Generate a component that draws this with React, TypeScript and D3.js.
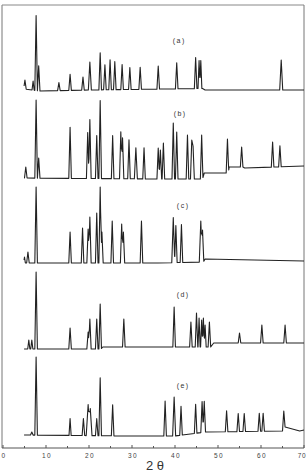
import React from "react";
import * as d3 from "d3";

const W = 307;
const H = 473;

// x axis
const xTicksMajor = [0, 10, 20, 30, 40, 50, 60, 70];
const xTicksMinor = [5, 15, 25, 35, 45, 55, 65];
const xLabel = "2 θ";

// Trace labels
const traceNames = ["(a)", "(b)", "(c)", "(d)", "(e)"];

// Baselines: [2θ, level] (level in plot units, vertical offset of trace)
const baseA: [number, number][] = [[4.9, 359], [8.5, 357], [20, 358], [46.4, 359.5], [47, 358], [70, 358]];
const baseB: [number, number][] = [[4.9, 270], [36, 269], [46.4, 269], [46.8, 275], [52.4, 275], [52.6, 281], [55.8, 281], [56.2, 280], [70, 282]];
const baseC: [number, number][] = [[4.9, 185], [36, 185], [46.6, 186], [47, 189], [70, 187]];
const baseD: [number, number][] = [[4.9, 99], [8, 99], [22.8, 99], [23.2, 101], [48.3, 101], [49, 105], [70, 105]];
const baseE: [number, number][] = [[4.9, 13], [30, 12], [40, 12], [47.2, 16], [65, 17], [65.6, 21], [69, 17], [70, 18]];

// Peaks: [2θ, intensity, half-width]
const peaksA: [number, number, number][] = [
  [5.1, 9, 0.3], [7.0, 9, 0.25], [7.7, 75, 0.3], [8.3, 25, 0.3], [13.0, 8, 0.3], [15.6, 16, 0.3],
  [18.6, 13, 0.3], [20.2, 28, 0.35], [22.6, 37, 0.3], [23.7, 25, 0.3], [24.9, 30, 0.3], [26.0, 28, 0.3],
  [27.7, 25, 0.3], [29.5, 22, 0.3], [31.9, 22, 0.3], [36.1, 23, 0.3], [40.4, 26, 0.3], [44.8, 31, 0.3],
  [45.6, 28, 0.25], [46.0, 28, 0.25], [64.7, 30, 0.35],
];
const peaksB: [number, number, number][] = [
  [5.3, 11, 0.3], [7.7, 78, 0.3], [8.3, 20, 0.3], [15.6, 51, 0.3], [19.7, 46, 0.3], [20.2, 59, 0.3],
  [21.8, 43, 0.3], [22.6, 78, 0.3], [25.5, 43, 0.3], [27.4, 47, 0.3], [27.8, 41, 0.3], [29.3, 39, 0.3],
  [30.9, 31, 0.35], [32.8, 31, 0.3], [36.1, 31, 0.3], [36.6, 29, 0.3], [37.3, 36, 0.3], [39.6, 56, 0.3],
  [40.4, 47, 0.3], [42.9, 44, 0.3], [43.9, 39, 0.3], [44.2, 33, 0.3], [46.2, 44, 0.3], [52.2, 34, 0.3],
  [55.5, 20, 0.3], [62.7, 25, 0.3], [64.4, 21, 0.3],
];
const peaksC: [number, number, number][] = [
  [5.0, 6, 0.2], [5.8, 11, 0.3], [7.7, 76, 0.3], [15.6, 31, 0.3], [18.5, 35, 0.3], [19.8, 34, 0.3],
  [20.2, 46, 0.3], [21.8, 50, 0.3], [22.6, 76, 0.3], [23.0, 31, 0.3], [25.4, 42, 0.3], [27.6, 39, 0.3],
  [28.0, 31, 0.3], [32.2, 42, 0.3], [39.6, 45, 0.35], [40.2, 37, 0.3], [41.5, 38, 0.3], [46.0, 41, 0.35],
  [46.4, 32, 0.3],
];
const peaksD: [number, number, number][] = [
  [6.0, 9, 0.25], [6.7, 9, 0.25], [7.7, 77, 0.3], [15.6, 21, 0.3], [19.8, 17, 0.3], [20.2, 30, 0.3],
  [21.8, 30, 0.3], [22.6, 45, 0.3], [28.1, 28, 0.3], [39.8, 40, 0.3], [43.7, 25, 0.3], [45.0, 34, 0.3],
  [45.6, 29, 0.25], [46.2, 27, 0.25], [46.6, 29, 0.25], [47.0, 22, 0.25], [48.0, 25, 0.3], [55.0, 10, 0.3],
  [60.2, 18, 0.3], [65.6, 18, 0.3],
];
const peaksE: [number, number, number][] = [
  [6.7, 3, 0.3], [7.7, 78, 0.3], [15.6, 17, 0.25], [18.7, 17, 0.3], [19.8, 31, 0.45], [20.3, 27, 0.4],
  [21.8, 17, 0.3], [22.6, 58, 0.3], [25.5, 31, 0.3], [37.7, 35, 0.3], [39.8, 39, 0.35], [41.4, 29, 0.3],
  [44.8, 29, 0.3], [46.3, 31, 0.3], [46.8, 31, 0.3], [52.0, 21, 0.3], [54.7, 18, 0.3], [56.1, 18, 0.3],
  [59.6, 18, 0.3], [60.5, 18, 0.3], [65.3, 18, 0.3],
];

const traces = [
  { name: traceNames[0], base: baseA, peaks: peaksA, label: [41, 40] as [number, number] },
  { name: traceNames[1], base: baseB, peaks: peaksB, label: [41.2, 113] as [number, number] },
  { name: traceNames[2], base: baseC, peaks: peaksC, label: [41.9, 205] as [number, number] },
  { name: traceNames[3], base: baseD, peaks: peaksD, label: [41.9, 294] as [number, number] },
  { name: traceNames[4], base: baseE, peaks: peaksE, label: [41.9, 385] as [number, number] },
];

const x = d3.scaleLinear().domain([0, 70]).range([3, 304]);
const y = d3.scaleLinear().domain([0, 443]).range([448, 5]);

function profile(base: [number, number][], peaks: [number, number, number][]) {
  const bx = base.map((b) => b[0]);
  const by = base.map((b) => b[1]);
  const bl = d3.scaleLinear().domain(bx).range(by).clamp(true);
  const xs = new Set<number>();
  base.forEach((b) => xs.add(b[0]));
  peaks.forEach(([p, , w]) => {
    xs.add(p - w);
    xs.add(p);
    xs.add(p + w);
  });
  const start = base[0][0];
  const end = base[base.length - 1][0];
  const sorted = Array.from(xs).filter((v) => v >= start && v <= end).sort((a, b) => a - b);
  return sorted.map((t) => {
    let v = 0;
    peaks.forEach(([p, h, w]) => {
      const s = h * Math.max(0, 1 - Math.abs(t - p) / w);
      if (s > v) v = s;
    });
    return [t, bl(t) + v] as [number, number];
  });
}

const line = d3
  .line<[number, number]>()
  .x((d) => x(d[0]))
  .y((d) => y(d[1]));

export default function App() {
  const axisY = y(0);
  const last = xTicksMajor[xTicksMajor.length - 1];
  return (
    <svg
      width={W}
      height={H}
      style={{ position: "absolute", left: 0, top: 0, background: "#fff" }}
      fontFamily="Arial, Liberation Sans, sans-serif"
    >
      <rect x={0} y={0} width={W} height={H} fill="#fff" />
      {/* frame */}
      <line x1={2} y1={y(443)} x2={2} y2={axisY} stroke="#777" strokeWidth={1} />
      <line x1={2} y1={y(443)} x2={x(70)} y2={y(443)} stroke="#888" strokeWidth={1} />
      <line x1={x(70)} y1={y(443)} x2={x(70)} y2={axisY} stroke="#777" strokeWidth={1} />
      <line x1={2} y1={axisY} x2={x(70)} y2={axisY} stroke="#555" strokeWidth={1} />
      {xTicksMajor.map((t) => (
        <g key={"M" + t}>
          <line x1={x(t)} x2={x(t)} y1={axisY} y2={axisY - 3} stroke="#555" />
          <text
            x={t === last ? W - 0.5 : x(t) + 1}
            y={axisY + 10}
            fontSize={6.5}
            textAnchor={t === last ? "end" : "middle"}
            letterSpacing={t === last ? 0.8 : 1.5}
            fill="#444"
          >
            {String(t)}
          </text>
        </g>
      ))}
      {xTicksMinor.map((t) => (
        <line key={"m" + t} x1={x(t)} x2={x(t)} y1={axisY} y2={axisY - 2} stroke="#555" />
      ))}
      <text x={155} y={470} fontSize={13} textAnchor="middle" fill="#333">
        {xLabel}
      </text>
      {traces.map((tr) => (
        <g key={tr.name}>
          <path
            d={line(profile(tr.base, tr.peaks)) || ""}
            fill="none"
            stroke="#222"
            strokeWidth={1.1}
            strokeLinejoin="round"
          />
          <text
            x={x(tr.label[0])}
            y={tr.label[1] + 2.5}
            fontSize={7}
            textAnchor="middle"
            letterSpacing={1.5}
            fill="#333"
          >
            {tr.name}
          </text>
        </g>
      ))}
    </svg>
  );
}
